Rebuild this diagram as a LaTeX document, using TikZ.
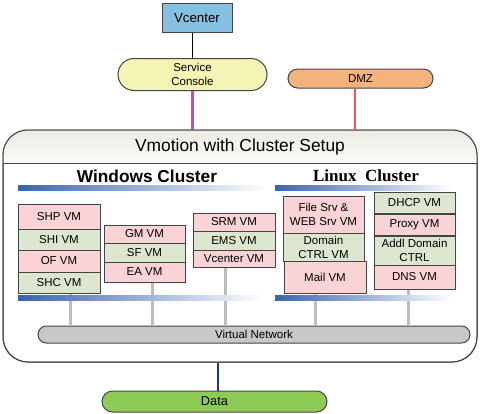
\documentclass[tikz,border=0pt]{standalone}
\usepackage{fontspec}
\setmainfont{Liberation Sans}
\newfontfamily\serifbold{Liberation Serif}
\usetikzlibrary{shapes.misc}
\definecolor{vcblue}{HTML}{86C0E0}
\definecolor{scyellow}{HTML}{F4F4B4}
\definecolor{dmzorange}{HTML}{F4B27C}
\definecolor{magline}{HTML}{C44CB8}
\definecolor{redline}{HTML}{F0505A}
\definecolor{datagreen}{HTML}{8DCB55}
\definecolor{vngray}{HTML}{C8C8C8}
\definecolor{bluel}{HTML}{2030A0}
\definecolor{vmpink}{HTML}{F9D3D6}
\definecolor{vmgreen}{HTML}{DDE6CF}
\definecolor{bord}{HTML}{444444}
\definecolor{barblue}{HTML}{3A64B0}
\definecolor{barmid}{HTML}{9DB5DD}
\definecolor{hdrtop}{HTML}{ECECE4}
\definecolor{hdrbot}{HTML}{FAFAF6}
\definecolor{glinec}{HTML}{BDBDBD}
\tikzset{
  box/.style={draw=bord, line width=1pt, inner sep=0pt, align=center,
    font=\fontsize{11.5}{14}\selectfont},
  pill/.style={box, rounded rectangle},
  vm/.style={box},
  pinkvm/.style={vm, fill=vmpink},
  greenvm/.style={vm, fill=vmgreen},
  gline/.style={draw=glinec, line width=3pt},
  bar/.style={left color=barblue, middle color=barmid, right color=white},
}
\begin{document}
\begin{tikzpicture}[x=1pt,y=-1pt]
\useasboundingbox (0,0) rectangle (480,413);

% top nodes
\node[box, fill=vcblue, minimum width=70pt, minimum height=29pt,
  font=\fontsize{13.3}{15}\selectfont] (vc) at (197,17.5) {Vcenter};
\node[pill, fill=scyellow, minimum width=149pt, minimum height=32pt] (sc) at (192.5,74.5)
  {Service\\Console};
\node[pill, fill=dmzorange, minimum width=145pt, minimum height=19pt] (dmz) at (360.5,78.5) {DMZ};

% big cluster box
\node[draw=bord, line width=1pt, rounded corners=25pt, minimum width=474pt,
  minimum height=232pt, fill=white, inner sep=0pt] (cluster) at (240,246) {};
\begin{scope}
  \clip[rounded corners=25pt] (3,130) rectangle (477,362);
  \shade[top color=hdrtop, bottom color=hdrbot] (3,130) rectangle (477,163);
\end{scope}
\draw[draw=bord, line width=1pt, rounded corners=25pt] (3,130) rectangle (477,362);
\draw[draw=bord, line width=1pt] (3,163) coordinate (hl) -- (477,163) coordinate (hr);
\node[font=\fontsize{17.4}{20}\selectfont] (title) at (240,147) {Vmotion with Cluster Setup};
\node[font=\fontsize{17.3}{20}\selectfont\bfseries] (win) at (147,176) {Windows Cluster};
\node[font=\fontsize{17}{20}\selectfont\serifbold\bfseries] (lin) at (366,176) {Linux\ \ Cluster};

% virtual network
\node[pill, fill=vngray, minimum width=432pt, minimum height=17pt] (vn) at (254,334.5) {Virtual Network};

% windows VMs
\node[pinkvm, minimum width=82pt, minimum height=25pt] (shp) at (59,216.5) {SHP VM};
\node[greenvm, minimum width=82pt, minimum height=21pt] (shi) at (59,239.5) {SHI VM};
\node[pinkvm, minimum width=82pt, minimum height=22pt] (of) at (59,261) {OF VM};
\node[greenvm, minimum width=82pt, minimum height=21pt] (shc) at (59,282.5) {SHC VM};

\node[pinkvm, minimum width=81pt, minimum height=18pt] (gm) at (144.5,234) {GM VM};
\node[greenvm, minimum width=81pt, minimum height=19pt] (sf) at (144.5,252.5) {SF VM};
\node[pinkvm, minimum width=81pt, minimum height=20pt] (ea) at (144.5,272) {EA VM};

\node[pinkvm, minimum width=82pt, minimum height=18pt] (srm) at (234,222) {SRM VM};
\node[greenvm, minimum width=82pt, minimum height=19pt] (ems) at (234,240.5) {EMS VM};
\node[pinkvm, minimum width=82pt, minimum height=17pt] (vcvm) at (234,258.5) {Vcenter VM};

% linux VMs
\node[pinkvm, minimum width=81pt, minimum height=37pt] (file) at (323.5,214.5) {File Srv \&\\WEB Srv VM};
\node[greenvm, minimum width=81pt, minimum height=28pt] (dom) at (323.5,247) {Domain\\CTRL VM};
\node[pinkvm, minimum width=82pt, minimum height=32pt] (mail) at (325,277) {Mail VM};

\node[greenvm, minimum width=81pt, minimum height=21pt] (dhcp) at (414.5,202.5) {DHCP VM};
\node[pinkvm, minimum width=81pt, minimum height=21pt] (proxy) at (414.5,224.5) {Proxy VM};
\node[greenvm, minimum width=81pt, minimum height=29pt] (addl) at (414.5,250.5) {Addl Domain\\CTRL};
\node[pinkvm, minimum width=81pt, minimum height=24pt] (dns) at (414.5,277) {DNS VM};

% gray connectors to virtual network
\draw[gline] ([xshift=11pt]shc.south) -- ([xshift=11pt]shc.south |- vn.north);
\draw[gline] ([xshift=7.5pt]ea.south) -- ([xshift=7.5pt]ea.south |- vn.north);
\draw[gline] ([xshift=-9pt]vcvm.south) -- ([xshift=-9pt]vcvm.south |- vn.north);
\draw[gline] ([xshift=-10pt]mail.south) -- ([xshift=-10pt]mail.south |- vn.north);
\draw[gline] ([xshift=-6.5pt]dns.south) -- ([xshift=-6.5pt]dns.south |- vn.north);

% gradient bars
\shade[bar] (18,185) rectangle (265,190);
\shade[bar] (18,295) rectangle (265,300);
\shade[bar] (275,185) rectangle (453,190);
\shade[bar] (275,295) rectangle (453,300);

% data
\node[pill, fill=datagreen, minimum width=225pt, minimum height=21pt,
  font=\fontsize{12.8}{15}\selectfont] (data) at (214.5,401.5) {Data};

% connectors
\draw[line width=1pt, black] (vc.south -| sc.north) -- (sc.north);
\draw[line width=3pt, magline] (sc.south) -- (sc.south |- cluster.north);
\draw[line width=2pt, redline] ([xshift=-5.5pt]dmz.south) -- ([xshift=-5.5pt]dmz.south |- cluster.north);
\draw[line width=1.5pt, bluel] ([xshift=3.5pt]data.north) -- ([xshift=3.5pt]data.north |- cluster.south);
\end{tikzpicture}
\end{document}
